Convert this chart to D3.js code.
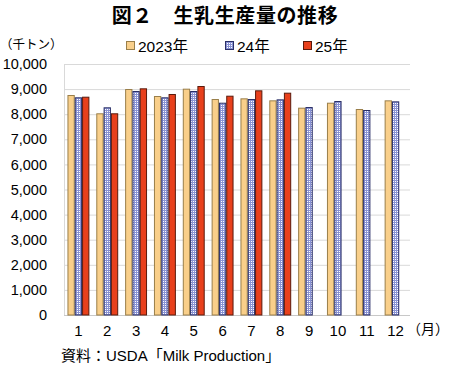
<!DOCTYPE html>
<html><head><meta charset="utf-8">
<script src="https://cdn.jsdelivr.net/npm/d3@7"></script>
<style>body{margin:0;background:#fff}svg{display:block}text{font-family:"Liberation Sans","Noto Sans CJK JP",sans-serif}</style>
</head><body>
<svg id="c" width="450" height="369"></svg>
<script>
const months = ["1","2","3","4","5","6","7","8","9","10","11","12"];
const seriesNames = ["2023年","24年","25年"];
const v2023 = [8765,8036,9004,8725,9017,8605,8632,8552,8260,8458,8207,8552];
const v2024 = [8673,8275,8924,8673,8924,8458,8605,8592,8286,8526,8167,8512];
const v2025 = [8697,8036,9031,8805,9123,8737,8951,8857,null,null,null,null];
const yTicks = [0,1000,2000,3000,4000,5000,6000,7000,8000,9000,10000];

const svg = d3.select("#c");
const defs = svg.append("defs");
const pat = defs.append("pattern").attr("id","chk").attr("patternUnits","userSpaceOnUse").attr("width",2).attr("height",2);
pat.append("rect").attr("width",2).attr("height",2).attr("fill","#ffffff");
pat.append("rect").attr("width",2).attr("height",1).attr("fill","#8a93d4");
pat.append("rect").attr("width",1).attr("height",2).attr("fill","#8a93d4");

const L=64,R=410,T=64,B=315;
const x0 = d3.scaleBand().domain(months).range([L,R]).paddingInner(0.24).paddingOuter(0.12);
const x1 = d3.scaleBand().domain([0,1,2]).range([0,x0.bandwidth()]);
const y = d3.scaleLinear().domain([0,10000]).range([B,T]);
const fills = ["#f9cf8a","url(#chk)","#e8401c"];
const strokes = ["#9a7f4a","#2a2f66","#5a1a0c"];
const data = [v2023,v2024,v2025];

// title
svg.append("text").attr("x",225).attr("y",23).attr("text-anchor","middle").attr("font-size",20).attr("font-weight","bold")
  .style("font-family","Noto Sans CJK JP").attr("letter-spacing",0.6).text("図２　生乳生産量の推移");
svg.append("text").attr("x",0).attr("y",49).attr("font-size",12.5).style("font-family","Noto Sans CJK JP").text("（千トン）");

// grid
svg.append("g").selectAll("line").data(yTicks).join("line")
  .attr("x1",L).attr("x2",R).attr("y1",d=>y(d)+0.5).attr("y2",d=>y(d)+0.5)
  .attr("stroke",d=>d===0?"#c8c8c8":"#d9d9d9").attr("stroke-width",1);
svg.append("line").attr("x1",L+0.5).attr("x2",L+0.5).attr("y1",T).attr("y2",B).attr("stroke","#d9d9d9");

// y axis labels
const yAxis = d3.axisLeft(y).tickValues(yTicks).tickFormat(d3.format(",")).tickSize(0).tickPadding(0);
const ga = svg.append("g").attr("transform",`translate(${L-17},0)`).call(yAxis);
ga.select(".domain").remove();
ga.selectAll("text").attr("font-size",14.5).attr("fill","#000").style("font-family","Liberation Sans, Arial, sans-serif");

// bars
data.forEach((vals,si)=>{
  svg.append("g").selectAll("rect").data(months.map((m,i)=>({m,v:vals[i]})).filter(d=>d.v!=null)).join("rect")
    .attr("x",d=>x0(d.m)+x1(si)+0.5).attr("y",d=>y(d.v)+0.5)
    .attr("width",x1.bandwidth()-1).attr("height",d=>B-y(d.v)-0.5)
    .attr("fill",fills[si]).attr("stroke",strokes[si]).attr("stroke-width",1);
});

// x axis labels
const xAxis = d3.axisBottom(x0).tickSize(0).tickPadding(0);
const gx = svg.append("g").attr("transform",`translate(0,${B+7})`).call(xAxis);
gx.select(".domain").remove();
gx.selectAll("text").attr("font-size",15).attr("fill","#000").attr("dy","0.9em").style("font-family","Liberation Sans, Arial, sans-serif");
svg.append("text").attr("x",407).attr("y",334).attr("font-size",14).style("font-family","Noto Sans CJK JP").text("（月）");

// legend
const legX = [126,225,303];
seriesNames.forEach((n,i)=>{
  svg.append("rect").attr("x",legX[i]+0.5).attr("y",41.5).attr("width",8).attr("height",8).attr("fill",fills[i]).attr("stroke",strokes[i]);
  svg.append("text").attr("x",legX[i]+12).attr("y",52).attr("font-size",15.5).text(n);
});

svg.append("text").attr("x",61).attr("y",361).attr("font-size",15).text("資料：USDA「Milk Production」");
</script>
</body></html>
